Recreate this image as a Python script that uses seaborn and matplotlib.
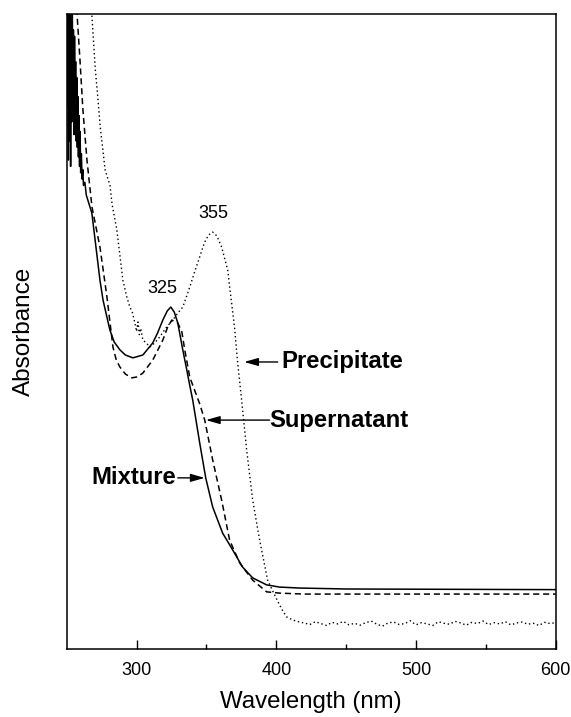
import numpy as np
import pandas as pd
import matplotlib
matplotlib.use("Agg")
import matplotlib.pyplot as plt
import seaborn as sns
from matplotlib.ticker import FixedLocator, NullLocator

# ---------------- data ----------------
mixture_nm = [250.0, 250.4, 250.8, 251.2, 251.6, 252.0, 252.4, 252.8, 253.2, 253.6,
              254.0, 254.4, 254.8, 255.2, 255.6, 256.0, 256.4, 256.8, 257.2, 257.6,
              258.0, 258.4, 258.8, 259.2, 259.6, 260.0, 260.5, 261.0, 261.5, 262.0,
              263.0, 264.0, 268.0, 273.8, 276.0, 280.9, 284.0, 288.1, 292.0, 297.4,
              304.5, 311.6, 315.0, 318.8, 322.0, 324.5, 327.0, 329.5, 333.1, 335.9,
              338.1, 340.2, 345.2, 349.5, 354.5, 361.6, 368.8, 375.9, 383.1, 393.1,
              402.4, 416.7, 450.0, 600.0]
mixture_abs = [2.10, 1.71, 2.10, 1.54, 2.05, 1.60, 2.10, 1.52, 1.98, 1.66,
               2.05, 1.70, 1.95, 1.62, 1.93, 1.72, 1.85, 1.60, 1.80, 1.58,
               1.74, 1.55, 1.68, 1.52, 1.63, 1.50, 1.56, 1.48, 1.51, 1.46,
               1.47, 1.43, 1.373, 1.162, 1.099, 1.005, 0.967, 0.942, 0.926, 0.917,
               0.926, 0.964, 0.995, 1.036, 1.065, 1.077, 1.061, 1.027, 0.942, 0.880,
               0.830, 0.784, 0.649, 0.539, 0.447, 0.365, 0.312, 0.258, 0.224, 0.202,
               0.195, 0.192, 0.189, 0.187]

supernatant_nm = [255.0, 257.4, 259.5, 261.6, 264.5, 268.1, 273.8, 278.8, 283.1, 285.5,
                  288.1, 292.0, 296.6, 300.5, 304.5, 311.6, 318.8, 322.0, 325.2, 329.5,
                  332.4, 334.5, 338.1, 345.2, 348.8, 354.5, 360.9, 366.6, 373.8, 383.1,
                  393.1, 402.4, 420.0, 600.0]
supernatant_abs = [2.15, 2.00, 1.855, 1.698, 1.540, 1.392, 1.266, 1.109, 0.951, 0.910,
                   0.888, 0.866, 0.854, 0.857, 0.869, 0.910, 0.973, 1.011, 1.036, 1.027,
                   0.999, 0.942, 0.856, 0.772, 0.721, 0.595, 0.469, 0.343, 0.271, 0.217,
                   0.180, 0.176, 0.173, 0.173]

precipitate_nm = [266.0, 268.1, 270.5, 272.0, 274.0, 277.5, 281.0, 282.5, 285.9, 290.2,
                  293.0, 295.2, 297.0, 298.8, 300.0, 301.0, 302.0, 303.0, 304.5, 307.0,
                  309.5, 313.0, 316.6, 321.0, 325.9, 329.5, 333.1, 338.1, 341.5, 345.2,
                  348.5, 351.5, 354.5, 357.5, 360.9, 365.2, 370.2, 372.3, 375.2, 378.8,
                  383.1, 388.1, 393.8, 398.8, 404.0, 407.4, 412.0, 416.7,
                  420, 424, 428, 432, 436, 440, 444, 448, 452, 456, 460, 464, 468, 472,
                  476, 480, 484, 488, 492, 496, 500, 504, 508, 512, 516, 520, 524, 528,
                  532, 536, 540, 544, 548, 552, 556, 560, 564, 568, 572, 576, 580, 584,
                  588, 592, 596, 600]
precipitate_abs = [2.10, 1.991, 1.824, 1.751, 1.644, 1.509, 1.46, 1.40, 1.320, 1.162,
                   1.109, 1.077, 1.06, 1.027, 1.00, 1.03, 0.99, 1.01, 0.973, 0.964,
                   0.951, 0.964, 0.983, 1.011, 1.036, 1.058, 1.077, 1.140, 1.187, 1.235,
                   1.279, 1.304, 1.313, 1.301, 1.266, 1.194, 1.010, 0.904, 0.784, 0.627,
                   0.469, 0.343, 0.217, 0.170, 0.125, 0.101, 0.091, 0.085,
                   0.082, 0.077, 0.086, 0.080, 0.074, 0.084, 0.079, 0.087, 0.076, 0.081,
                   0.075, 0.083, 0.088, 0.078, 0.072, 0.082, 0.085, 0.077, 0.080, 0.089,
                   0.076, 0.083, 0.079, 0.074, 0.086, 0.081, 0.078, 0.087, 0.082, 0.075,
                   0.084, 0.080, 0.088, 0.077, 0.083, 0.079, 0.086, 0.076, 0.082, 0.085,
                   0.078, 0.081, 0.074, 0.084, 0.080, 0.083]

major_ticks = [300, 400, 500, 600]
minor_ticks = [350, 450, 550]

# ---------------- plot ----------------
sns.set_theme(style="ticks")
plt.rcParams['font.family'] = ['Liberation Sans', 'DejaVu Sans']
plt.rcParams['text.color'] = 'black'
plt.rcParams['axes.labelcolor'] = 'black'
plt.rcParams['xtick.color'] = 'black'
plt.rcParams['ytick.color'] = 'black'

fig = plt.figure(figsize=(5.71, 7.17), dpi=100)
ax = fig.add_axes([66.7 / 571, 1 - 649 / 717, (555.7 - 66.7) / 571, (649 - 14) / 717])

df_m = pd.DataFrame({"nm": mixture_nm, "A": mixture_abs})
df_s = pd.DataFrame({"nm": supernatant_nm, "A": supernatant_abs})
df_p = pd.DataFrame({"nm": precipitate_nm, "A": precipitate_abs})

sns.lineplot(data=df_m, x="nm", y="A", ax=ax, color="black", lw=1.1,
             estimator=None, sort=False)
sns.lineplot(data=df_s, x="nm", y="A", ax=ax, color="black", lw=1.1,
             estimator=None, sort=False, dashes=False, linestyle=(0, (4, 2.5)))
sns.lineplot(data=df_p, x="nm", y="A", ax=ax, color="black", lw=1.0,
             estimator=None, sort=False, linestyle=(0, (1, 2)))

ax.set_xlim(250, 600)
ax.set_ylim(0, 2.0)

ax.xaxis.set_major_locator(FixedLocator(major_ticks))
ax.xaxis.set_minor_locator(FixedLocator(minor_ticks))
ax.yaxis.set_major_locator(NullLocator())
ax.tick_params(axis='x', which='major', direction='in', length=6.5, width=1.0,
               labelsize=13, pad=9.5, colors='black', top=False)
ax.tick_params(axis='x', which='minor', direction='in', length=3.3, width=1.0,
               top=False)
for sp in ax.spines.values():
    sp.set_visible(True)
    sp.set_color('black')
    sp.set_linewidth(1.1)

ax.set_xlabel("Wavelength (nm)", fontsize=17.3, color='black')
ax.set_ylabel("Absorbance", fontsize=17.5, color='black')
ax.xaxis.set_label_coords(0.5, -0.066)
ax.yaxis.set_label_coords(-0.064, 0.5)

# peak labels
ax.text(355.2, 1.373, "355", ha="center", va="center", fontsize=13, color='black')
ax.text(318.4, 1.134, "325", ha="center", va="center", fontsize=13, color='black')

arrow = dict(arrowstyle='-|>,head_length=0.6,head_width=0.17', color='black',
             lw=1.0, shrinkA=0, shrinkB=0, mutation_scale=14)

ax.text(403.8, 0.904, "Precipitate", ha="left", va="center", fontsize=17.2,
        fontweight="bold", color='black')
ax.annotate("", xy=(377.0, 0.904), xytext=(401.0, 0.904), arrowprops=arrow)

ax.text(395.2, 0.721, "Supernatant", ha="left", va="center", fontsize=17.2,
        fontweight="bold", color='black')
ax.annotate("", xy=(349.6, 0.721), xytext=(395.2, 0.721), arrowprops=arrow)

ax.text(328.1, 0.539, "Mixture", ha="right", va="center", fontsize=17.2,
        fontweight="bold", color='black')
ax.annotate("", xy=(348.8, 0.539), xytext=(329.5, 0.539), arrowprops=arrow)

fig.savefig("out.png", dpi=100)
